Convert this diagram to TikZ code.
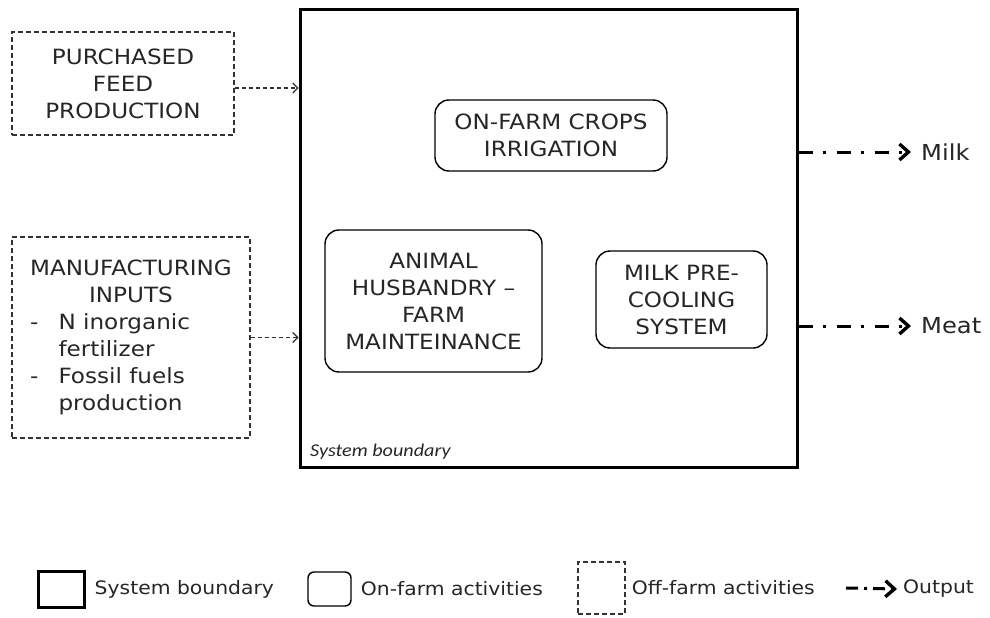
\documentclass[tikz,border=0pt]{standalone}
\usepackage{fontspec}
\setmainfont{DejaVu Sans}[FakeStretch=1.1]
\newfontfamily\carlito{Carlito}[FakeStretch=1.12]
\usetikzlibrary{arrows.meta,positioning,calc}

\begin{document}
\begin{tikzpicture}[x=1pt,y=-1pt,
  sysbound/.style={draw=black,line width=3pt,inner sep=0pt},
  onfarm/.style={draw=black,line width=1.4pt,rounded corners=14pt,fill=white,align=center,
                 inner sep=0pt,text=black!85,font=\fontsize{21}{27}\selectfont},
  offfarm/.style={draw=black!80,line width=1.1pt,dash pattern=on 5pt off 3pt,align=center,
                  inner sep=0pt,text=black!85,font=\fontsize{21}{27}\selectfont},
  feedin/.style={draw=black!80,line width=1.1pt,dash pattern=on 4pt off 3pt,
                 -{Straight Barb[length=5pt,width=10pt]}},
  outflow/.style={draw=black,line width=3pt,dash pattern=on 14pt off 10pt on 3pt off 11pt,
                  -{Straight Barb[length=9pt,width=16pt,line width=3.4pt]}},
  lab/.style={font=\fontsize{18.5}{22}\selectfont,anchor=west,inner sep=0pt,text=black!85},
  outlab/.style={font=\fontsize{22}{26}\selectfont,anchor=west,inner sep=0pt,text=black!85}]

\useasboundingbox (0,0) rectangle (990,618);

% ---- system boundary ----
\node[sysbound,minimum width=497pt,minimum height=457pt] (sys) at (548.5,238.5) {};
\node[anchor=south west,inner sep=0pt,font=\carlito\itshape\fontsize{18}{20}\selectfont,text=black!85]
  (syslab) at (310,460) {System boundary};

% ---- on-farm activities ----
\node[onfarm,minimum width=232pt,minimum height=71pt] (crops) at (551,135.5)
  {ON-FARM CROPS\\IRRIGATION};
\node[onfarm,minimum width=217pt,minimum height=142pt] (husb) at (433.5,301)
  {ANIMAL\\HUSBANDRY –\\FARM\\MAINTEINANCE};
\node[onfarm,minimum width=171pt,minimum height=97pt] (cool) at (681.5,299.5)
  {MILK PRE-\\COOLING\\SYSTEM};

% ---- off-farm activities ----
\node[offfarm,minimum width=222pt,minimum height=103pt] (feed) at (123,83.5)
  {PURCHASED\\FEED\\PRODUCTION};
\node[offfarm,minimum width=238pt,minimum height=201pt] (manuf) at (131,337.5)
  {\begin{tabular}{@{}p{1.35em}@{}l@{}}
   \multicolumn{2}{@{}c@{}}{MANUFACTURING}\\
   \multicolumn{2}{@{}c@{}}{INPUTS}\\
   -&N inorganic\\
    &fertilizer\\
   -&Fossil fuels\\
    &production
   \end{tabular}};

\draw[feedin] ([yshift=-4.5pt]feed.east) -- ([yshift=-4.5pt]feed.east -| sys.west);
\draw[feedin] (manuf.east) -- (manuf.east -| sys.west);

% ---- outputs ----
\node[outlab] (milk) at (921,152) {Milk};
\node[outlab] (meat) at (921,326) {Meat};
\draw[outflow] (sys.east |- milk) -- ([xshift=-10pt]milk.west);
\draw[outflow] (sys.east |- meat) -- ([xshift=-10pt]meat.west);

% ---- legend ----
\node[sysbound,minimum width=46pt,minimum height=36pt] (lsys) at (61,589) {};
\node[lab,right=9pt of lsys] {System boundary};
\node[draw=black,line width=1.4pt,rounded corners=6pt,minimum width=43pt,minimum height=34pt]
  (lon) at (329.5,589) {};
\node[lab,right=9pt of lon] {On-farm activities};
\node[draw=black!80,line width=1.1pt,dash pattern=on 5pt off 3pt,minimum width=47pt,minimum height=52pt]
  (loff) at (601.5,588) {};
\node[lab,right=6pt of loff] {Off-farm activities};
\coordinate (lout) at (846,588);
\node[lab] (louttxt) at (903,589) {Output};
\draw[outflow,dash pattern=on 12pt off 6pt on 3pt off 6pt] (lout) -- ([xshift=-6pt]louttxt.west);
\end{tikzpicture}
\end{document}
